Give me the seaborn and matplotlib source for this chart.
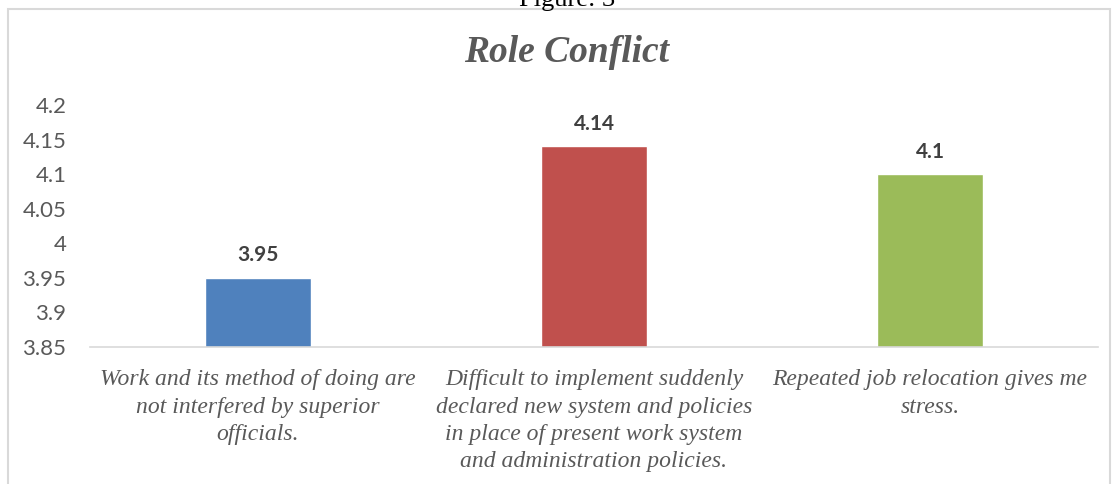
import matplotlib
matplotlib.use("Agg")
import matplotlib.pyplot as plt
import seaborn as sns
import pandas as pd
from matplotlib.patches import Rectangle

categories = [
    "Work and its method of doing are\nnot interfered by superior\nofficials.",
    "Difficult to implement suddenly\ndeclared new system and policies\nin place of present work system\nand administration policies.",
    "Repeated job relocation gives me\nstress.",
]
values = [3.95, 4.14, 4.10]
value_labels = ["3.95", "4.14", "4.1"]
colors = ["#4F81BD", "#C0504D", "#9BBB59"]
yticks = [3.85, 3.9, 3.95, 4.0, 4.05, 4.1, 4.15, 4.2]
ytick_labels = ["3.85", "3.9", "3.95", "4", "4.05", "4.1", "4.15", "4.2"]

sns.set_theme(style="white")
plt.rcParams["font.family"] = ["Lato", "DejaVu Sans"]

df = pd.DataFrame({"cat": categories, "val": values})

fig = plt.figure(figsize=(11.18, 4.84), dpi=100)
ax = fig.add_axes([90/1118, 1-347/484, 1008/1118, 242/484])

sns.barplot(data=df, x="cat", y="val", hue="cat", palette=colors,
            dodge=False, width=0.315, legend=False, ax=ax, saturation=1)

ax.set_ylim(3.85, 4.2)
ax.set_xlim(-0.5, 2.5)
ax.set_yticks(yticks)
ax.set_yticklabels(ytick_labels, fontsize=16, color="#595959")
ax.set_xticks(range(3))
ax.set_xticklabels(categories, fontsize=17, color="#595959",
                   family="Liberation Serif", style="italic", linespacing=1.4,
                   va="top")
ax.tick_params(axis="x", length=0, pad=16)
ax.tick_params(axis="y", length=0, pad=17)
ax.set_xlabel("")
ax.set_ylabel("")
for s in ["top", "right", "left"]:
    ax.spines[s].set_visible(False)
ax.spines["bottom"].set_color("#D9D9D9")
ax.spines["bottom"].set_linewidth(1.2)

for cont, lab in zip(ax.containers, value_labels):
    ax.bar_label(cont, labels=[lab], padding=9, fontsize=15,
                 fontweight="bold", color="#404040")

fig.text(0.507, 1-52/484, "Role Conflict", ha="center", va="center",
         fontsize=27, fontweight="bold", style="italic",
         family="Liberation Serif", color="#595959")
fig.text(0.507, 1.0, "Figure: 3", ha="center", va="center",
         fontsize=19, family="Liberation Serif", color="black")

rect = Rectangle((8/1118, -0.1), (1110-8)/1118, 1-9/484+0.1,
                 transform=fig.transFigure, fill=False,
                 edgecolor="#D9D9D9", linewidth=1.5)
fig.patches.append(rect)

fig.savefig("out.png", dpi=100)
